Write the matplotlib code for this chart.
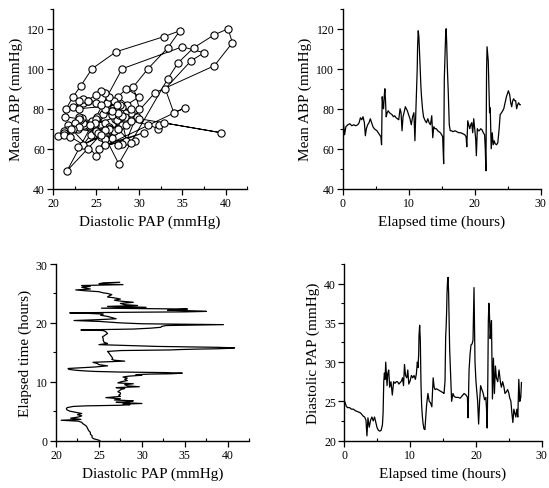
import numpy as np
import matplotlib
matplotlib.use('Agg')
import matplotlib.pyplot as plt
from matplotlib.ticker import MultipleLocator

plt.rcParams['font.family'] = ['Liberation Serif', 'DejaVu Serif']

# Elapsed time (hours), mean ABP (mmHg), diastolic PAP (mmHg)
hours = [0.0, 0.15, 0.3, 0.5, 0.8, 1.1, 1.4, 1.7, 2.0, 2.3, 2.5, 2.7, 2.9, 3.1, 3.3,
         3.45, 3.6, 3.8, 4.0, 4.2, 4.4, 4.6, 4.8, 5.0, 5.2, 5.4, 5.6, 5.8, 5.9, 6.0,
         6.1, 6.2, 6.3, 6.4, 6.5, 6.6, 6.75, 6.9, 7.1, 7.3, 7.5, 7.7, 7.9, 8.1, 8.3,
         8.5, 8.7, 8.85, 9.0, 9.15, 9.3, 9.5, 9.65, 9.8, 10.0, 10.2, 10.4, 10.6, 10.8,
         10.95, 11.1, 11.2, 11.3, 11.35, 11.45, 11.55, 11.65, 11.75, 11.85, 11.95, 12.1,
         12.25, 12.5, 12.7, 12.9, 13.1, 13.3, 13.5, 13.65, 13.8, 14.0, 14.2, 14.4, 14.6,
         14.8, 15.0, 15.15, 15.3, 15.4, 15.47, 15.54, 15.6, 15.68, 15.76, 15.85, 16.0,
         16.15, 16.3, 16.5, 16.7, 17.0, 17.3, 17.6, 17.9, 18.2, 18.5, 18.7, 18.8, 18.95,
         19.1, 19.25, 19.4, 19.55, 19.7, 19.85, 20.0, 20.15, 20.25, 20.4, 20.55, 20.7,
         20.9, 21.1, 21.3, 21.5, 21.6, 21.7, 21.8, 21.87, 21.95, 22.05, 22.15, 22.25,
         22.35, 22.5, 22.65, 22.8, 22.95, 23.1, 23.3, 23.5, 23.7, 23.85, 24.05, 24.25,
         24.4, 24.6, 24.8, 25.0, 25.1, 25.3, 25.45, 25.6, 25.75, 25.9, 26.05, 26.2,
         26.35, 26.5, 26.65, 26.8, 26.9]

abp = [76, 72, 67, 71, 72, 72.5, 71.5, 72, 71.5, 72, 73, 75.5, 74.5, 76, 73,
       66.5, 70, 72, 73, 75, 73, 71, 70, 69.5, 69, 68, 67, 66, 62, 86,
       82, 80, 86, 90, 84, 76, 78, 79, 78, 77.5, 77, 76, 76.5, 75.5, 75,
       74.5, 80, 78, 69, 76, 78, 81, 80, 79, 77, 75, 72, 76, 78,
       64, 80, 91, 100, 110.5, 119, 116, 108.5, 100, 91.5, 86, 80,
       76, 74, 73, 75, 73, 72, 76.5, 65.5, 71, 70, 70, 69, 68.5,
       68, 67, 66, 52.5, 95, 103, 110.5, 117, 120, 113, 101.5, 88,
       72, 69, 69, 68.5, 69, 68.5, 68, 68, 67.5, 67, 66, 61, 74,
       72, 70, 72, 73, 68, 75, 70, 65, 56.5, 70, 69, 69,
       70, 69.5, 68, 67, 60, 49, 100, 111, 108, 104, 90, 78,
       80.5, 60, 68, 62, 64, 62.5, 62, 63, 70, 77, 78, 79,
       80, 83, 86, 88, 89, 87, 83, 81, 84, 85, 84, 84,
       80, 82, 83, 82, 82]

pap = [25.1, 24.8, 24.4, 24.2, 24.2, 24.0, 24.0, 23.8, 23.7, 23.6, 23.5, 23.3, 23.1, 23.0, 22.6,
       20.6, 22.9, 21.7, 22.6, 23.0, 22.5, 23.0, 22.3, 21.6, 21.3, 21.2, 21.3, 22.0, 23.5, 27.5,
       28.6, 27.8, 30.0, 28.5, 27.0, 28.5, 29.0, 26.8, 27.5, 25.8, 27.5, 27.3, 27.5, 27.5, 27.2,
       27.4, 27.6, 28.0, 27.0, 29.7, 28.3, 28.0, 29.0, 27.2, 27.6, 28.3, 28.0, 28.3, 27.8,
       28.5, 30.0, 29.3, 31.0, 33.3, 34.7, 32.8, 27.3, 24.5, 23.2, 22.3, 21.5,
       21.4, 24.5, 26.0, 25.0, 24.8, 24.3, 28.0, 26.8, 26.5, 26.6, 26.5, 26.4, 26.3,
       26.2, 26.1, 26.0, 27.6, 33.3, 34.5, 36.3, 38.7, 40.3, 40.8, 38.7, 31.8,
       28.5, 25.0, 26.0, 25.6, 25.5, 25.5, 25.4, 25.7, 26.0, 25.8, 25.5, 22.9, 29.0,
       31.0, 32.2, 32.3, 32.8, 39.5, 30.0, 27.5, 26.0, 25.0, 22.1, 25.0, 27.0,
       26.5, 26.0, 25.2, 25.5, 24.0, 21.6, 28.0, 35.0, 37.5, 36.0, 33.0, 34.0,
       35.3, 25.3, 30.5, 26.0, 29.5, 28.0, 27.5, 29.0, 27.5, 26.8, 27.5, 26.8,
       26.0, 26.2, 26.5, 26.0, 25.5, 25.0, 23.5, 22.3, 24.0, 23.5, 23.0, 24.0,
       23.0, 27.8, 25.0, 25.5, 27.4]

fig = plt.figure(figsize=(5.49, 4.89), dpi=100)

ax1 = fig.add_axes([0.097, 0.612, 0.353, 0.368])
ax2 = fig.add_axes([0.624, 0.612, 0.361, 0.368])
ax3 = fig.add_axes([0.102, 0.097, 0.352, 0.361])
ax4 = fig.add_axes([0.627, 0.097, 0.360, 0.361])

# phase plot: PAP vs ABP
ax1.plot(pap, abp, '-o', color='black', lw=0.7, ms=5.2, mfc='white', mec='black', mew=0.8)
ax1.set_xlim(20, 42.5)
ax1.set_ylim(40, 130)
ax1.xaxis.set_major_locator(MultipleLocator(5))
ax1.xaxis.set_minor_locator(MultipleLocator(2.5))
ax1.yaxis.set_minor_locator(MultipleLocator(10))
ax1.set_xticks([20, 25, 30, 35, 40])
ax1.set_yticks([40, 60, 80, 100, 120])
ax1.set_xlabel('Diastolic PAP (mmHg)')
ax1.set_ylabel('Mean ABP (mmHg)')

ax2.plot(hours, abp, color='black', lw=0.9)
ax2.set_xlim(0, 30)
ax2.set_ylim(40, 130)
ax2.xaxis.set_major_locator(MultipleLocator(10))
ax2.xaxis.set_minor_locator(MultipleLocator(5))
ax2.yaxis.set_minor_locator(MultipleLocator(10))
ax2.set_yticks([40, 60, 80, 100, 120])
ax2.set_xlabel('Elapsed time (hours)')
ax2.set_ylabel('Mean ABP (mmHg)')

ax3.plot(pap, hours, color='black', lw=0.9)
ax3.set_xlim(20, 42.5)
ax3.set_ylim(0, 30)
ax3.xaxis.set_minor_locator(MultipleLocator(2.5))
ax3.yaxis.set_major_locator(MultipleLocator(10))
ax3.yaxis.set_minor_locator(MultipleLocator(5))
ax3.set_xticks([20, 25, 30, 35, 40])
ax3.set_xlabel('Diastolic PAP (mmHg)')
ax3.set_ylabel('Elapsed time (hours)')

ax4.plot(hours, pap, color='black', lw=0.9)
ax4.set_xlim(0, 30)
ax4.set_ylim(20, 42.5)
ax4.xaxis.set_major_locator(MultipleLocator(10))
ax4.xaxis.set_minor_locator(MultipleLocator(5))
ax4.yaxis.set_minor_locator(MultipleLocator(2.5))
ax4.set_yticks([20, 25, 30, 35, 40])
ax4.set_xlabel('Elapsed time (hours)')
ax4.set_ylabel('Diastolic PAP (mmHg)')

for ax in (ax1, ax2, ax3, ax4):
    ax.spines['top'].set_visible(False)
    ax.spines['right'].set_visible(False)
    ax.spines['left'].set_linewidth(1.0)
    ax.spines['bottom'].set_linewidth(1.0)
    ax.tick_params(which='major', direction='out', length=4, width=0.9, labelsize=8.5, pad=2)
    ax.tick_params(axis='x', which='minor', direction='in', length=2.5, width=0.8)
    ax.tick_params(axis='y', which='minor', direction='out', length=2.5, width=0.8)
    ax.xaxis.label.set_size(11)
    ax.yaxis.label.set_size(11)
    ax.xaxis.labelpad = 4
    ax.yaxis.labelpad = 3

plt.savefig('out.png', dpi=100)
